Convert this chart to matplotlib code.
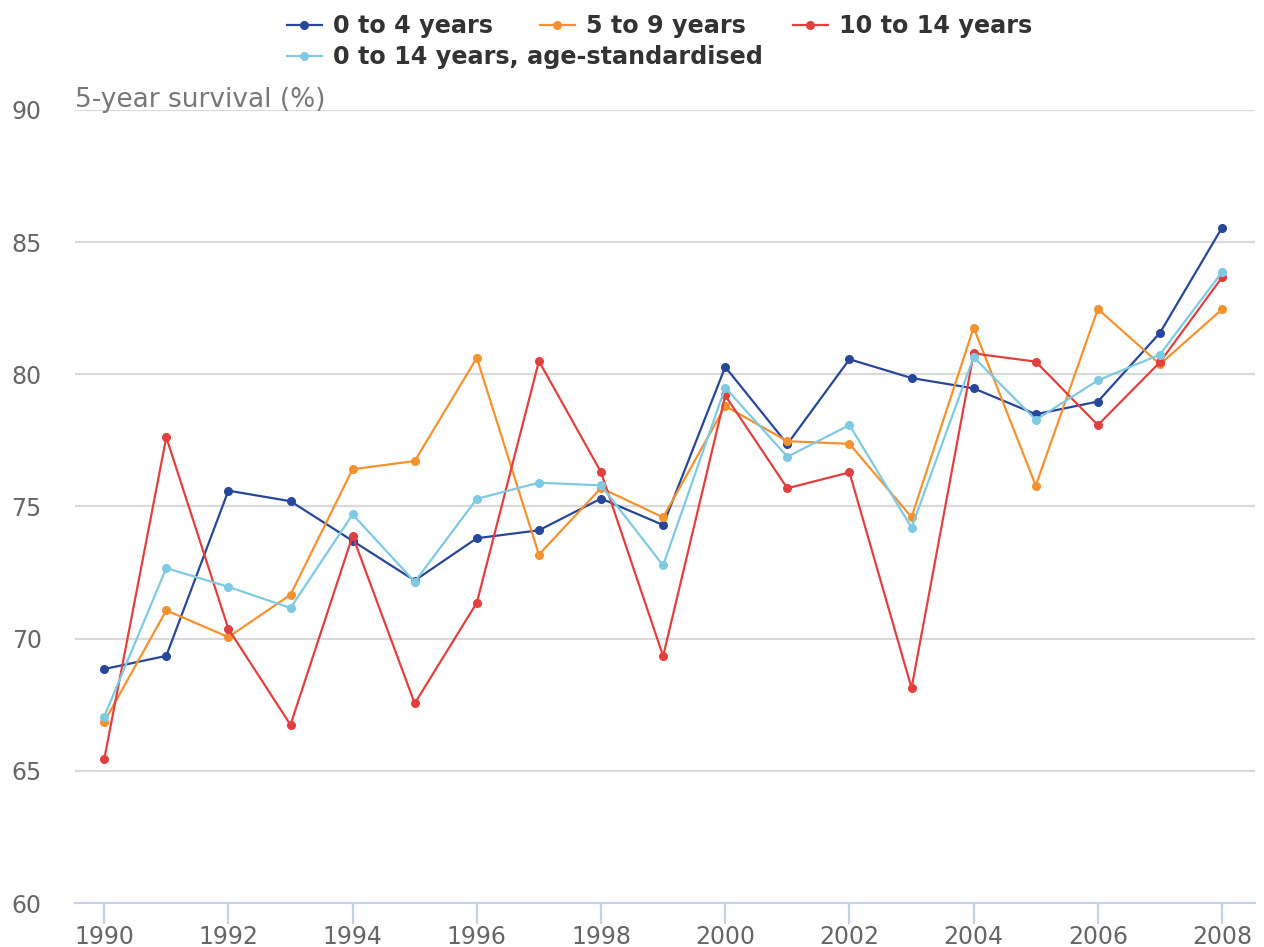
import numpy as np
import matplotlib
matplotlib.use('Agg')
import matplotlib.pyplot as plt

# data
years = list(range(1990, 2009))
age_0_4 = [68.85, 69.35, 75.6, 75.2, 73.7, 72.2, 73.8, 74.1, 75.3, 74.3, 80.28,
           77.36, 80.57, 79.86, 79.47, 78.49, 78.97, 81.57, 85.55]
age_5_9 = [66.85, 71.07, 70.06, 71.66, 76.41, 76.72, 80.62, 73.18, 75.7, 74.59, 78.8,
           77.47, 77.37, 74.6, 81.77, 75.79, 82.47, 80.38, 82.46]
age_10_14 = [65.43, 77.62, 70.37, 66.74, 73.89, 67.55, 71.36, 80.5, 76.3, 69.34, 79.2,
             75.69, 76.29, 68.13, 80.79, 80.48, 78.08, 80.46, 83.67]
age_std = [67.05, 72.67, 71.96, 71.16, 74.7, 72.15, 75.29, 75.9, 75.8, 72.77, 79.5,
           76.88, 78.08, 74.2, 80.65, 78.28, 79.77, 80.75, 83.87]

labels = ['0 to 4 years', '5 to 9 years', '10 to 14 years',
          '0 to 14 years, age-standardised']
colors = ['#27479a', '#f5922f', '#e2403f', '#7ecae3']
yticks = [60, 65, 70, 75, 80, 85, 90]
xticks = list(range(1990, 2009, 2))

plt.rcParams['font.family'] = ['DejaVu Sans']

fig = plt.figure(figsize=(12.64, 9.47), dpi=100)
ax = fig.add_axes([75 / 1264, 1 - 903 / 947, 1180 / 1264, 793 / 947])

handles = []
for vals, lab, col in zip([age_0_4, age_5_9, age_10_14, age_std], labels, colors):
    h, = ax.plot(years, vals, color=col, lw=1.6, marker='o', ms=5.5,
                 label=lab, zorder=3)
    handles.append(h)

ax.set_xlim(1989.53, 2008.53)
ax.set_ylim(60, 90)
ax.set_yticks(yticks)
ax.set_xticks(xticks)
ax.set_yticklabels([str(v) for v in yticks])
ax.set_xticklabels([str(v) for v in xticks])

for v in yticks[1:]:
    ax.axhline(v, color='#d9d9d9', lw=1.6, zorder=1)

for s in ['top', 'right', 'left']:
    ax.spines[s].set_visible(False)
ax.spines['bottom'].set_color('#c6d2e3')
ax.spines['bottom'].set_linewidth(1.6)

ax.tick_params(axis='y', length=0, pad=24, labelsize=17, labelcolor='#666666')
ax.tick_params(axis='x', length=15, width=1.6, color='#c6d2e3', pad=1,
               labelsize=17, labelcolor='#666666')

ax.text(1989.53, 90.1, '5-year survival (%)', fontsize=19, color='#777777',
        va='baseline', ha='left')

# legend in two rows: three entries on top, the standardised series below
leg_font = {'family': 'DejaVu Sans', 'weight': 'bold', 'size': 17.2}
leg1 = fig.legend(handles[:3], labels[:3], ncol=3, loc='center left',
                  bbox_to_anchor=(287 / 1264, 1 - 26 / 947), frameon=False,
                  handlelength=1.46, handletextpad=0.46, columnspacing=1.97,
                  borderpad=0, borderaxespad=0, prop=leg_font)
leg2 = fig.legend(handles[3:], labels[3:], loc='center left',
                  bbox_to_anchor=(287 / 1264, 1 - 57 / 947), frameon=False,
                  handlelength=1.46, handletextpad=0.46,
                  borderpad=0, borderaxespad=0, prop=leg_font)
for leg in (leg1, leg2):
    for t in leg.get_texts():
        t.set_color('#333333')

fig.savefig('out.png', dpi=100)
